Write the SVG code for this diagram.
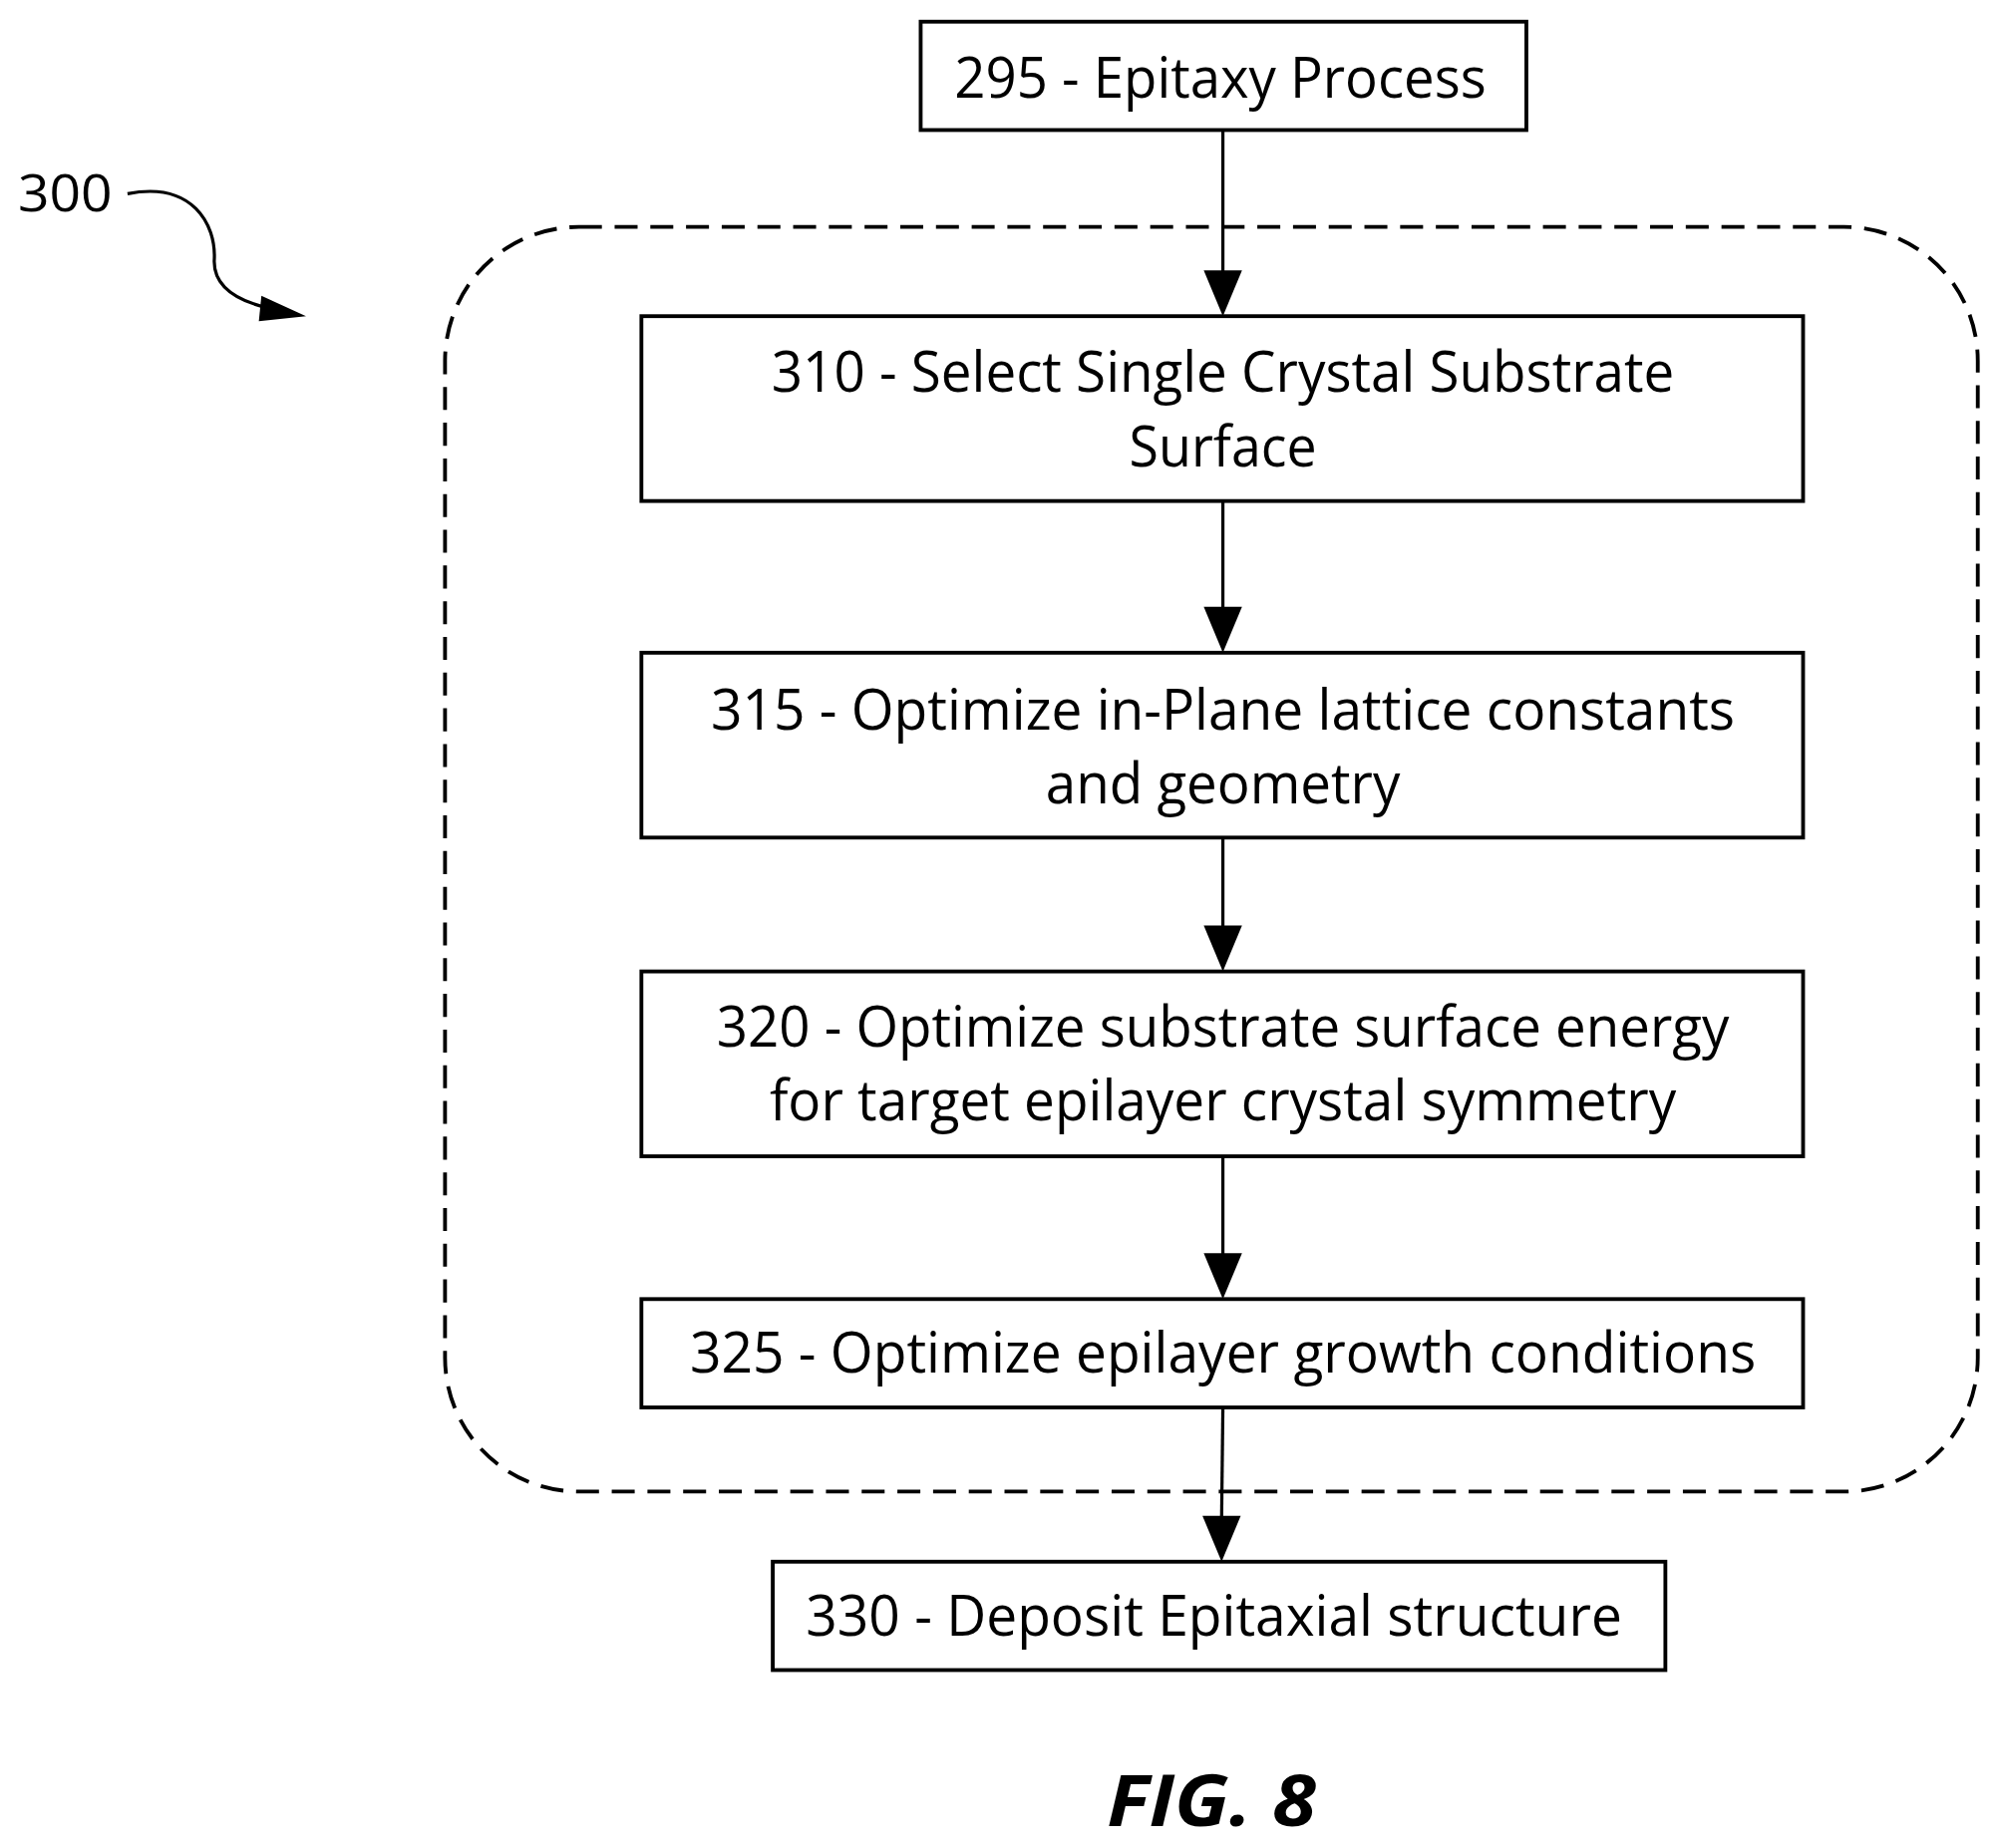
<svg xmlns="http://www.w3.org/2000/svg" width="2002" height="1854" viewBox="0 0 2002 1854">
<style>
.box{fill:#fff;stroke:#000;stroke-width:3}
.t{font-family:"Open Sans","Noto Sans",sans-serif;font-size:44px;text-anchor:middle;fill:#000}
.ln{stroke:#000;stroke-width:2.5;fill:none}
</style>
<rect width="2002" height="1854" fill="#fff"/>
<g transform="scale(1.279)">
<g id="label300">
<text x="14" y="166" style="font-family:'Open Sans','Noto Sans',sans-serif;font-size:40px" textLength="74" lengthAdjust="spacingAndGlyphs">300</text>
<path class="ln" d="M100,152 C150,142 170,175 168,205 C168,225 185,236 212,242"/>
<path d="M205,232 L240,248 L203,252 Z" fill="#000"/>
</g>
<g id="group">
<rect x="349" y="178" width="1202" height="992" rx="105" fill="none" stroke="#000" stroke-width="3" stroke-dasharray="18 10"/>
</g>
<g id="connectors">
<line class="ln" x1="959" y1="102" x2="959" y2="214"/><path d="M944,212 L974,212 L959,248 Z"/>
<line class="ln" x1="959" y1="393" x2="959" y2="478"/><path d="M944,476 L974,476 L959,512 Z"/>
<line class="ln" x1="959" y1="657" x2="959" y2="728"/><path d="M944,726 L974,726 L959,762 Z"/>
<line class="ln" x1="959" y1="907" x2="959" y2="985"/><path d="M944,983 L974,983 L959,1019 Z"/>
<line class="ln" x1="959" y1="1104" x2="958" y2="1191"/><path d="M943,1189 L973,1189 L958,1225 Z"/>
</g>
<g id="n295"><rect class="box" x="722" y="17" width="475" height="85"/><text class="t" x="957" y="77" textLength="417" lengthAdjust="spacingAndGlyphs">295 - Epitaxy Process</text></g>
<g id="n310"><rect class="box" x="503" y="248" width="911" height="145"/><text class="t" x="959" y="307" textLength="708" lengthAdjust="spacingAndGlyphs">310 - Select Single Crystal Substrate</text><text class="t" x="959" y="366" textLength="147" lengthAdjust="spacingAndGlyphs">Surface</text></g>
<g id="n315"><rect class="box" x="503" y="512" width="911" height="145"/><text class="t" x="959" y="572" textLength="803" lengthAdjust="spacingAndGlyphs">315 - Optimize in-Plane lattice constants</text><text class="t" x="959" y="630" textLength="278" lengthAdjust="spacingAndGlyphs">and geometry</text></g>
<g id="n320"><rect class="box" x="503" y="762" width="911" height="145"/><text class="t" x="959" y="821" textLength="794" lengthAdjust="spacingAndGlyphs">320 - Optimize substrate surface energy</text><text class="t" x="959" y="879" textLength="711" lengthAdjust="spacingAndGlyphs">for target epilayer crystal symmetry</text></g>
<g id="n325"><rect class="box" x="503" y="1019" width="911" height="85"/><text class="t" x="959" y="1077" textLength="836" lengthAdjust="spacingAndGlyphs">325 - Optimize epilayer growth conditions</text></g>
<g id="n330"><rect class="box" x="606" y="1225" width="700" height="85"/><text class="t" x="952" y="1283" textLength="640" lengthAdjust="spacingAndGlyphs">330 - Deposit Epitaxial structure</text></g>
<text x="950" y="1432" style="font-family:'Open Sans','Noto Sans',sans-serif;font-size:56px;font-weight:bold;font-style:italic;text-anchor:middle" textLength="164" lengthAdjust="spacingAndGlyphs">FIG. 8</text>
</g>
</svg>
